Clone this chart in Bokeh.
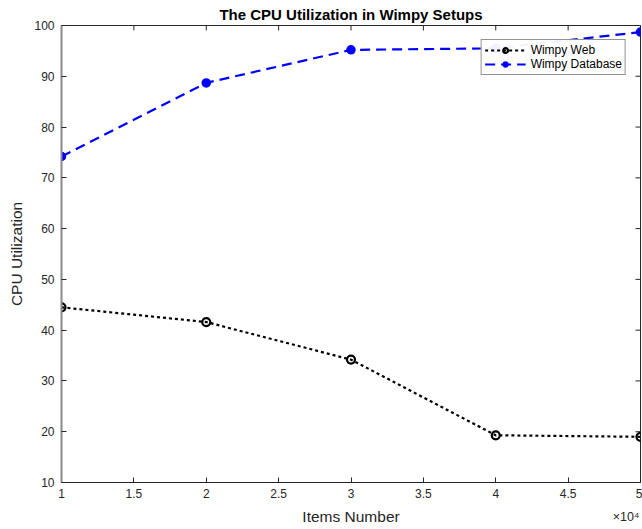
import math
from bokeh.plotting import figure
from bokeh.models import (FixedTicker, CustomJSTickFormatter, LinearAxis,
                          Legend, LegendItem, Range1d)
from bokeh.embed import file_html
from bokeh.resources import INLINE

items = [10000, 20000, 30000, 40000, 50000]
wimpy_web = [44.5, 41.6, 34.2, 19.3, 19.0]
wimpy_db = [74.2, 88.7, 95.2, 95.5, 98.7]
x_ticks = [10000, 15000, 20000, 25000, 30000, 35000, 40000, 45000, 50000]
y_ticks = [10, 20, 30, 40, 50, 60, 70, 80, 90, 100]
x_min, x_max = 10000, 50000
y_min, y_max = 10, 100
x_exponent_text = "\u00d710\u2074"

FONT = "Liberation Sans"
AX = "#262626"

p = figure(width=642, height=529, output_backend="svg", toolbar_location=None,
           x_range=Range1d(x_min, x_max), y_range=Range1d(y_min, y_max),
           title="The CPU Utilization in Wimpy Setups",
           min_border_left=61, min_border_right=2, min_border_top=25, min_border_bottom=47)
p.xgrid.visible = False
p.ygrid.visible = False
p.outline_line_color = AX
p.outline_line_width = 1
p.background_fill_color = "white"
p.border_fill_color = "white"

p.title.text_font = FONT
p.title.text_font_size = "15px"
p.title.text_font_style = "bold"
p.title.text_color = "black"
p.title.align = "center"
p.title.text_line_height = 1.0
p.title.standoff = 5

fmt = CustomJSTickFormatter(code="return (tick/10000).toString();")

xa = p.xaxis[0]
xa.ticker = FixedTicker(ticks=x_ticks)
xa.formatter = fmt
ya = p.yaxis[0]
ya.ticker = FixedTicker(ticks=y_ticks)

for ax in (xa, ya):
    ax.major_tick_in = 5
    ax.major_tick_out = 0
    ax.minor_tick_line_color = None
    ax.major_tick_line_color = AX
    ax.axis_line_color = AX
    ax.major_label_text_font = FONT
    ax.major_label_text_font_size = "12px"
    ax.major_label_text_color = AX
    ax.axis_label_text_font = FONT
    ax.axis_label_text_font_size = "15.5px"
    ax.axis_label_text_font_style = "normal"
    ax.axis_label_text_color = AX
ya.axis_line_color = "#8a8a8a"
ya.axis_line_width = 2
ya.axis_label = "CPU Utilization"
xa.major_label_standoff = 6
ya.major_label_standoff = 7
ya.axis_label_standoff = 6

# second bottom axis: the x10^4 multiplier and the axis title on one row
exp_pos = x_max - 0.025 * (x_max - x_min)
xa2 = LinearAxis(ticker=FixedTicker(ticks=[exp_pos]),
                 formatter=CustomJSTickFormatter(code="return '%s';" % x_exponent_text),
                 axis_line_color=None, major_tick_line_color=None, minor_tick_line_color=None,
                 major_tick_in=0, major_tick_out=0, major_label_standoff=9,
                 major_label_text_font=FONT, major_label_text_font_size="12.5px",
                 major_label_text_color=AX,
                 axis_label="Items Number", axis_label_standoff=-19,
                 axis_label_text_font=FONT, axis_label_text_font_size="15.5px",
                 axis_label_text_font_style="normal", axis_label_text_color=AX)
p.add_layout(xa2, "below")

# inward ticks on the top and right edges of the box
p.scatter(x_ticks, [y_max] * len(x_ticks), marker="dash", angle=math.pi / 2,
          size=10, line_color=AX, line_width=1)
p.scatter([x_max] * len(y_ticks), y_ticks, marker="dash",
          size=10, line_color=AX, line_width=1)

l1 = p.line(items, wimpy_web, line_color="black", line_width=2.2, line_dash="3 3")
m1 = p.scatter(items, wimpy_web, marker="circle", size=8, fill_color=None,
               line_color="black", line_width=2.2)
l2 = p.line(items, wimpy_db, line_color="#0000ff", line_width=2.2, line_dash="10 6")
m2 = p.scatter(items, wimpy_db, marker="circle", size=8, fill_color="#0000ff",
               line_color="#0000ff", line_width=1.5)

legend = Legend(items=[LegendItem(label="Wimpy Web", renderers=[l1, m1]),
                       LegendItem(label="Wimpy Database", renderers=[l2, m2])],
                location="top_right")
legend.label_text_font = FONT
legend.label_text_font_size = "12px"
legend.label_text_color = "black"
legend.border_line_color = AX
legend.border_line_width = 1
legend.glyph_width = 41
legend.glyph_height = 12
legend.label_height = 12
legend.spacing = 0
legend.padding = 3
legend.margin = 14
legend.label_standoff = 5
p.add_layout(legend)

open("out.html", "w").write(file_html(p, INLINE))
